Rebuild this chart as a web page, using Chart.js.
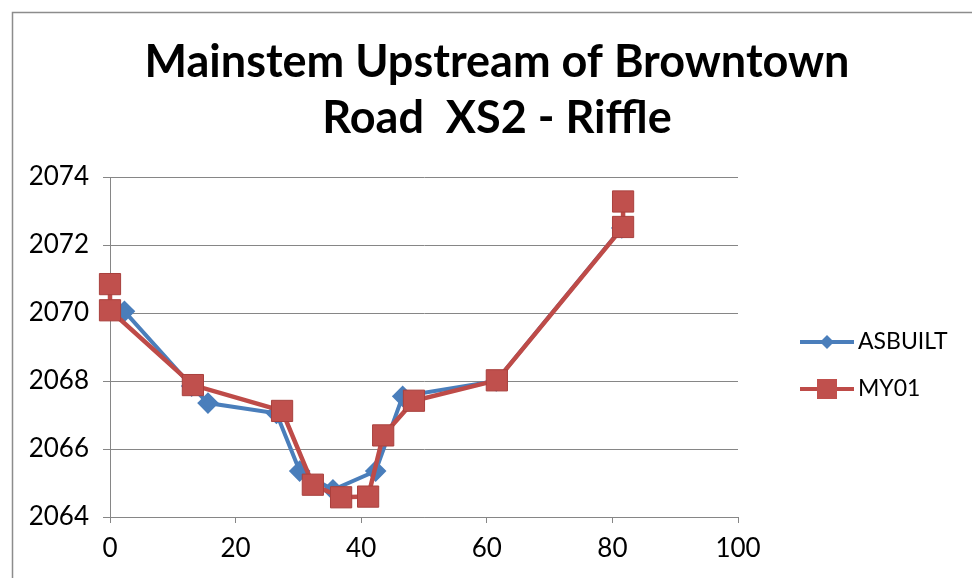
<!DOCTYPE html>
<html>
<head>
<meta charset="utf-8">
<script src="https://cdn.jsdelivr.net/npm/chart.js@4/dist/chart.umd.min.js"></script>
<style>
  html, body { margin: 0; padding: 0; background: #fff; }
  #wrap { width: 972px; height: 578px; }
</style>
</head>
<body>
<div id="wrap"><canvas id="grafico"></canvas></div>
<script>
const titulo = ["Mainstem Upstream of Browntown", "Road  XS2 - Riffle"];
const serieNomes = ["ASBUILT", "MY01"];

// ASBUILT (azul)
const asbuiltX = [2.3, 13.0, 15.6, 26.5, 30.2, 35.5, 42.3, 46.6, 61.5, 81.5];
const asbuiltY = [2070.05, 2067.85, 2067.35, 2067.05, 2065.35, 2064.8, 2065.35, 2067.55, 2068.0, 2072.5];

// MY01 (vermelho)
const my01X = [0, 0, 13.2, 27.4, 32.3, 36.8, 41.1, 43.5, 48.4, 61.6, 81.7, 81.7];
const my01Y = [2070.85, 2070.08, 2067.88, 2067.12, 2064.95, 2064.58, 2064.6, 2066.4, 2067.42, 2068.02, 2072.53, 2073.28];

const xTicks = [0, 20, 40, 60, 80, 100];
const yTicks = [2064, 2066, 2068, 2070, 2072, 2074];

const cores = {
  azul: "#4A7EBB",
  vermelho: "#BE4B48",
  grade: "#868686"
};

const pontos = (xs, ys) => xs.map((x, i) => ({ x, y: ys[i] }));

// moldura do gráfico (só esquerda e topo aparecem no recorte)
const moldura = {
  id: "moldura",
  beforeDraw(chart) {
    const ctx = chart.ctx;
    ctx.save();
    ctx.strokeStyle = "#8c8c8c";
    ctx.lineWidth = 1.5;
    ctx.strokeRect(12.5, 12.5, 1000, 600);
    ctx.restore();
  }
};

// título centrado no gráfico inteiro (legenda fica fora da área)
const tituloExcel = {
  id: "tituloExcel",
  afterDraw(chart) {
    const ctx = chart.ctx;
    ctx.save();
    ctx.fillStyle = "#000";
    ctx.font = "bold 45px Lato";
    ctx.textAlign = "center";
    ctx.textBaseline = "middle";
    ctx.fillText(titulo[0], 497, 62);
    ctx.fillText(titulo[1], 497, 118);
    ctx.restore();
  }
};

// legenda ao estilo Excel: linha com o marcador no meio
const legendaExcel = {
  id: "legendaExcel",
  afterDraw(chart) {
    const ctx = chart.ctx;
    const area = chart.chartArea;
    const x0 = area.right + 62;
    const linhas = [area.top + 165, area.top + 212];
    ctx.save();
    chart.data.datasets.forEach((ds, i) => {
      const y = linhas[i];
      ctx.strokeStyle = ds.borderColor;
      ctx.lineWidth = 4;
      ctx.beginPath();
      ctx.moveTo(x0, y);
      ctx.lineTo(x0 + 54, y);
      ctx.stroke();
      ctx.fillStyle = ds.pointBackgroundColor;
      const cx = x0 + 27;
      if (ds.pointStyle === "rect") {
        ctx.fillRect(cx - 10, y - 10, 20, 20);
      } else {
        ctx.beginPath();
        ctx.moveTo(cx, y - 7);
        ctx.lineTo(cx + 7, y);
        ctx.lineTo(cx, y + 7);
        ctx.lineTo(cx - 7, y);
        ctx.closePath();
        ctx.fill();
      }
      ctx.fillStyle = "#000";
      ctx.font = "23px Lato";
      ctx.textBaseline = "middle";
      ctx.fillText(ds.label, x0 + 58, y);
    });
    ctx.restore();
  }
};

new Chart(document.getElementById("grafico"), {
  type: "line",
  data: {
    datasets: [
      {
        label: serieNomes[0],
        data: pontos(asbuiltX, asbuiltY),
        borderColor: cores.azul,
        borderWidth: 4,
        pointStyle: "rectRot",
        pointRadius: 8,
        pointBackgroundColor: cores.azul,
        pointBorderColor: cores.azul,
        clip: false,
        order: 2
      },
      {
        label: serieNomes[1],
        data: pontos(my01X, my01Y),
        borderColor: cores.vermelho,
        borderWidth: 4.5,
        pointStyle: "rect",
        pointRadius: 15,
        pointBackgroundColor: "#C0504D",
        pointBorderColor: "#A9403D",
        pointBorderWidth: 1,
        clip: false,
        order: 1
      }
    ]
  },
  options: {
    responsive: true,
    maintainAspectRatio: false,
    animation: false,
    layout: { padding: { left: 12, right: 234, top: 177, bottom: 0 } },
    plugins: {
      legend: { display: false },
      tooltip: { enabled: false },
      title: { display: false }
    },
    scales: {
      x: {
        type: "linear",
        min: 0,
        max: 100,
        afterBuildTicks: s => { s.ticks = xTicks.map(v => ({ value: v })); },
        afterFit: s => { s.height = 61; },
        grid: { drawOnChartArea: false, drawTicks: true, tickLength: 6, color: cores.grade },
        border: { color: cores.grade, width: 1 },
        ticks: { color: "#000", padding: 10, font: { family: "Lato", size: 26 } }
      },
      y: {
        min: 2064,
        max: 2074,
        afterBuildTicks: s => { s.ticks = yTicks.map(v => ({ value: v })); },
        afterFit: s => { s.width = 98; },
        grid: { color: cores.grade, tickLength: 7 },
        border: { color: cores.grade, width: 1 },
        ticks: {
          color: "#000",
          padding: 14,
          font: { family: "Lato", size: 26 },
          callback: v => String(v)
        }
      }
    }
  },
  plugins: [moldura, tituloExcel, legendaExcel]
});
</script>
</body>
</html>
